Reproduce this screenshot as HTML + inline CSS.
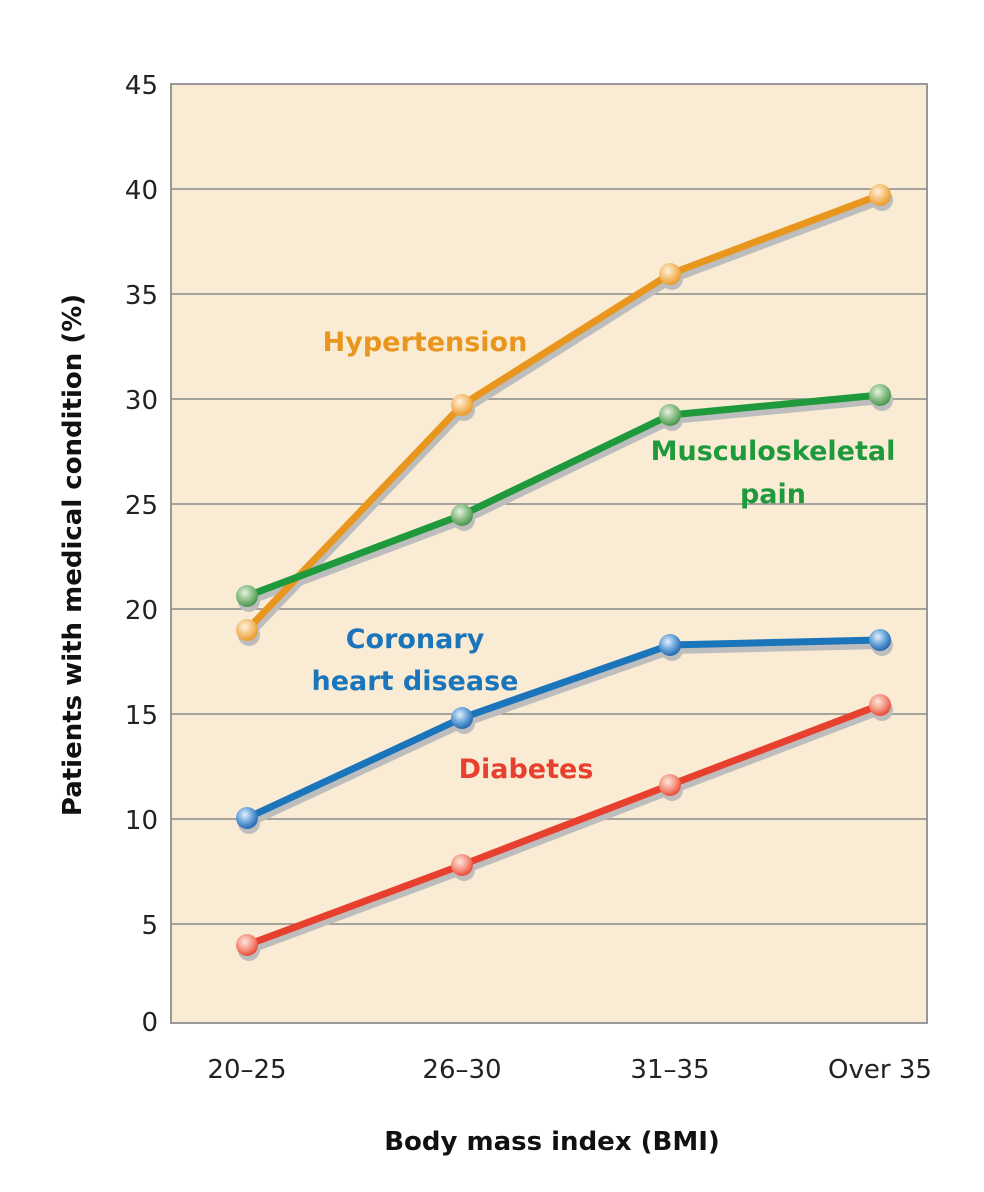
<!DOCTYPE html>
<html><head><meta charset="utf-8"><style>
body{margin:0;background:#fff;}
svg{display:block;font-family:"DejaVu Sans","Liberation Sans",sans-serif;}
</style></head><body>
<svg width="984" height="1192" viewBox="0 0 984 1192">
<defs>
<radialGradient id="go" cx="0.4" cy="0.35" r="0.7"><stop offset="0" stop-color="#fff3dc"/><stop offset="0.5" stop-color="#f5c27a"/><stop offset="1" stop-color="#e8961e"/></radialGradient>
<radialGradient id="gg" cx="0.4" cy="0.35" r="0.7"><stop offset="0" stop-color="#e6f2df"/><stop offset="0.5" stop-color="#8fc08a"/><stop offset="1" stop-color="#3d8f45"/></radialGradient>
<radialGradient id="gb" cx="0.4" cy="0.35" r="0.7"><stop offset="0" stop-color="#e4f0fb"/><stop offset="0.5" stop-color="#6aa6dc"/><stop offset="1" stop-color="#1a5fa8"/></radialGradient>
<radialGradient id="gr" cx="0.4" cy="0.35" r="0.7"><stop offset="0" stop-color="#ffe6de"/><stop offset="0.5" stop-color="#f59a86"/><stop offset="1" stop-color="#e8402e"/></radialGradient>
</defs>
<rect x="171" y="84" width="756" height="939" fill="#faecd4" stroke="#999" stroke-width="2"/>
<g stroke="#8a8a8a" stroke-width="1.5">
<line x1="171" y1="189" x2="927" y2="189"/><line x1="171" y1="294" x2="927" y2="294"/>
<line x1="171" y1="399" x2="927" y2="399"/><line x1="171" y1="504" x2="927" y2="504"/>
<line x1="171" y1="609" x2="927" y2="609"/><line x1="171" y1="714" x2="927" y2="714"/>
<line x1="171" y1="819" x2="927" y2="819"/><line x1="171" y1="924" x2="927" y2="924"/>
</g>
<g font-size="26" fill="#222" text-anchor="end">
<text x="158" y="94">45</text><text x="158" y="199">40</text><text x="158" y="304">35</text>
<text x="158" y="409">30</text><text x="158" y="514">25</text><text x="158" y="619">20</text>
<text x="158" y="724">15</text><text x="158" y="829">10</text><text x="158" y="934">5</text>
<text x="158" y="1031">0</text>
</g>
<g font-size="26" fill="#222" text-anchor="middle">
<text x="247" y="1078">20–25</text><text x="462" y="1078">26–30</text>
<text x="670" y="1078">31–35</text><text x="880" y="1078">Over 35</text>
</g>
<text x="552" y="1150" font-size="26" font-weight="bold" text-anchor="middle" fill="#111">Body mass index (BMI)</text>
<text transform="translate(81,555) rotate(-90)" font-size="26" font-weight="bold" text-anchor="middle" fill="#111">Patients with medical condition (%)</text>
<g fill="none" stroke="#bdbdbd" stroke-width="8" stroke-linejoin="round" transform="translate(2,5)">
<polyline points="247,630 462,405 670,274 880,195"/>
<polyline points="247,596 462,515 670,415 880,395"/>
<polyline points="247,818 462,718 670,645 880,640"/>
<polyline points="247,945 462,865 670,785 880,705"/>
</g>
<g fill="#bdbdbd">
<circle cx="249" cy="635" r="11"/><circle cx="464" cy="410" r="11"/><circle cx="672" cy="279" r="11"/><circle cx="882" cy="200" r="11"/>
<circle cx="249" cy="601" r="11"/><circle cx="464" cy="520" r="11"/><circle cx="672" cy="420" r="11"/><circle cx="882" cy="400" r="11"/>
<circle cx="249" cy="823" r="11"/><circle cx="464" cy="723" r="11"/><circle cx="672" cy="650" r="11"/><circle cx="882" cy="645" r="11"/>
<circle cx="249" cy="950" r="11"/><circle cx="464" cy="870" r="11"/><circle cx="672" cy="790" r="11"/><circle cx="882" cy="710" r="11"/>
</g>
<g fill="none" stroke-width="7" stroke-linejoin="round">
<polyline stroke="#e8961e" points="247,630 462,405 670,274 880,195"/>
<polyline stroke="#1e9a3c" points="247,596 462,515 670,415 880,395"/>
<polyline stroke="#1a75bb" points="247,818 462,718 670,645 880,640"/>
<polyline stroke="#e8402e" points="247,945 462,865 670,785 880,705"/>
</g>
<g fill="url(#go)"><circle cx="247" cy="630" r="11"/><circle cx="462" cy="405" r="11"/><circle cx="670" cy="274" r="11"/><circle cx="880" cy="195" r="11"/></g>
<g fill="url(#gg)"><circle cx="247" cy="596" r="11"/><circle cx="462" cy="515" r="11"/><circle cx="670" cy="415" r="11"/><circle cx="880" cy="395" r="11"/></g>
<g fill="url(#gb)"><circle cx="247" cy="818" r="11"/><circle cx="462" cy="718" r="11"/><circle cx="670" cy="645" r="11"/><circle cx="880" cy="640" r="11"/></g>
<g fill="url(#gr)"><circle cx="247" cy="945" r="11"/><circle cx="462" cy="865" r="11"/><circle cx="670" cy="785" r="11"/><circle cx="880" cy="705" r="11"/></g>
<g font-size="27" font-weight="bold" text-anchor="middle">
<text x="425" y="351" fill="#e8961e">Hypertension</text>
<text x="773" y="460" fill="#1e9a3c">Musculoskeletal</text>
<text x="773" y="503" fill="#1e9a3c">pain</text>
<text x="415" y="648" fill="#1a75bb">Coronary</text>
<text x="415" y="690" fill="#1a75bb">heart disease</text>
<text x="526" y="778" fill="#e8402e">Diabetes</text>
</g>
</svg>
</body></html>
